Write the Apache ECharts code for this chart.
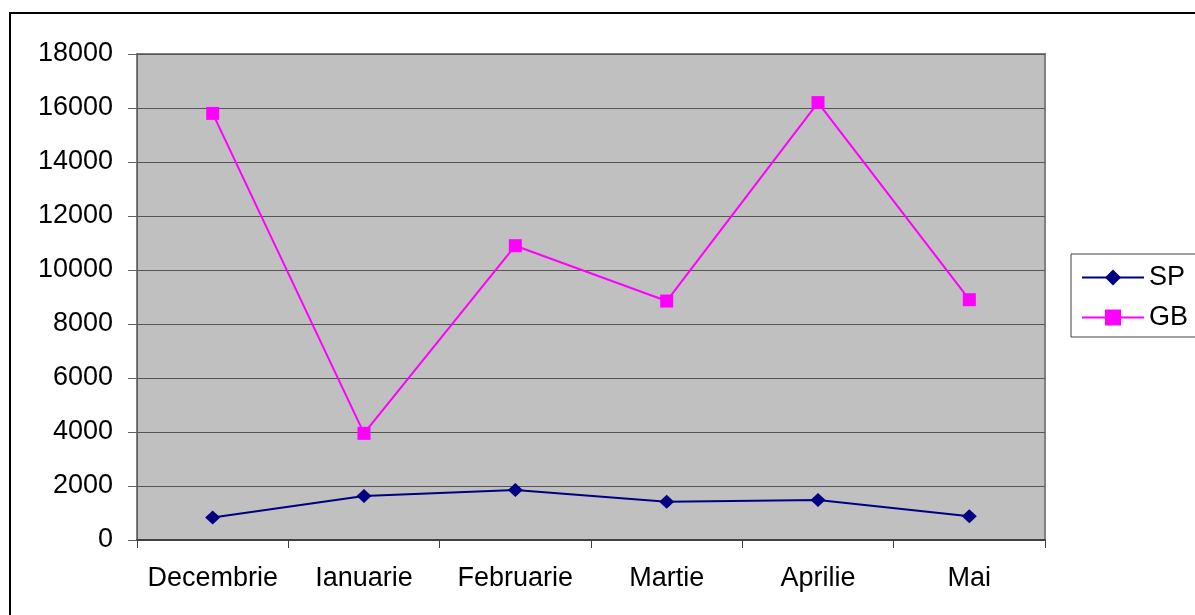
<!DOCTYPE html>
<html>
<head>
<meta charset="utf-8">
<script src="https://cdn.jsdelivr.net/npm/echarts@6/dist/echarts.min.js"></script>
<style>
  html, body { margin: 0; padding: 0; background: #fff; }
  #chart { width: 1195px; height: 615px; }
</style>
</head>
<body>
<div id="chart"></div>
<script>
// categories (months)
const months = ['Decembrie', 'Ianuarie', 'Februarie', 'Martie', 'Aprilie', 'Mai']
// series values
const spValues = [830, 1630, 1850, 1420, 1480, 880]
const gbValues = [15800, 3950, 10900, 8850, 16200, 8900]

const chart = echarts.init(document.getElementById('chart'))

const option = {
  animation: false,
  textStyle: { fontFamily: 'Liberation Sans, Arial, sans-serif' },
  graphic: [{
    type: 'rect',
    shape: { x: 10, y: 13, width: 1300, height: 700 },
    style: { fill: 'none', stroke: '#000', lineWidth: 2 }
  }],
  grid: {
    left: 137,
    right: 150,
    top: 54,
    bottom: 75,
    show: true,
    backgroundColor: '#c0c0c0',
    borderColor: '#808080',
    borderWidth: 2
  },
  legend: {
    orient: 'vertical',
    left: 1071,
    top: 254,
    padding: [10, 30, 6, 10],
    itemGap: 13,
    itemWidth: 62,
    itemHeight: 20,
    borderColor: '#404040',
    borderWidth: 1,
    backgroundColor: '#fff',
    textStyle: { color: '#000', fontSize: 27 },
    data: ['SP', 'GB']
  },
  xAxis: {
    type: 'category',
    data: months,
    boundaryGap: true,
    axisLine: { lineStyle: { color: '#404040', width: 2 } },
    axisTick: { show: true, inside: false, length: 8, lineStyle: { color: '#404040', width: 1 } },
    axisLabel: { color: '#000', fontSize: 27, margin: 25, interval: 0 },
    splitLine: { show: false }
  },
  yAxis: {
    type: 'value',
    min: 0,
    max: 18000,
    interval: 2000,
    axisLine: { show: true, lineStyle: { color: '#606060', width: 1 } },
    axisTick: { show: true, inside: false, length: 9, lineStyle: { color: '#606060' } },
    axisLabel: { color: '#000', fontSize: 27, margin: 24, formatter: v => String(v) },
    splitLine: { show: true, lineStyle: { color: '#555', width: 1 } }
  },
  series: [
    {
      name: 'SP',
      type: 'line',
      data: spValues,
      symbol: 'diamond',
      symbolSize: [15, 14],
      showAllSymbol: true,
      lineStyle: { color: '#000080', width: 2 },
      itemStyle: { color: '#000080' },
      z: 3
    },
    {
      name: 'GB',
      type: 'line',
      data: gbValues,
      symbol: 'rect',
      symbolSize: 13,
      showAllSymbol: true,
      lineStyle: { color: '#ff00ff', width: 2 },
      itemStyle: { color: '#ff00ff' },
      z: 3
    }
  ]
}

chart.setOption(option)
</script>
</body>
</html>
